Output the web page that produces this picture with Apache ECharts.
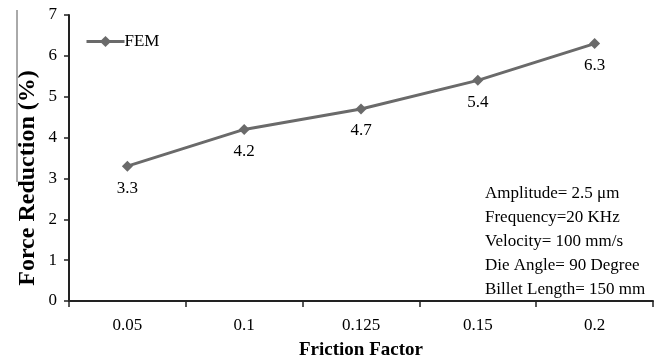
<!DOCTYPE html>
<html><head><meta charset="utf-8">
<script src="https://cdn.jsdelivr.net/npm/echarts@6/dist/echarts.min.js"></script>
<style>html,body{margin:0;padding:0;background:#fff}#c{width:668px;height:361px}</style>
</head><body><div id="c"></div>
<script>
var categories = ['0.05', '0.1', '0.125', '0.15', '0.2'];
var femValues = [3.3, 4.2, 4.7, 5.4, 6.3];
var yTicks = [0, 1, 2, 3, 4, 5, 6, 7];
var notes = ['Amplitude= 2.5 \u03bcm', 'Frequency=20 KHz', 'Velocity= 100 mm/s', 'Die Angle= 90 Degree', 'Billet Length= 150 mm'];
var serif = '"Liberation Serif", "DejaVu Serif", serif';
var chart = echarts.init(document.getElementById('c'), null, {renderer: 'canvas'});
chart.setOption({
  animation: false,
  backgroundColor: '#fff',
  grid: {left: 69, right: 15, top: 15, bottom: 60, outerBoundsMode: 'none', containLabel: false},
  legend: {
    show: true, left: 80, top: 28, itemWidth: 38, itemHeight: 14, itemGap: 4,
    lineStyle: {width: 3, color: '#6a6a6a'},
    textStyle: {fontFamily: serif, fontSize: 17, color: '#000', padding: [0, 0, 0, -5]},
    data: ['FEM']
  },
  xAxis: {
    type: 'category', data: categories, boundaryGap: true,
    name: 'Friction Factor', nameLocation: 'middle', nameGap: 40,
    nameTextStyle: {fontFamily: serif, fontSize: 19, fontWeight: 'bold', color: '#000'},
    axisLine: {lineStyle: {color: '#222', width: 2}},
    axisTick: {show: true, inside: false, length: 6, lineStyle: {color: '#222', width: 1.5}},
    axisLabel: {fontFamily: serif, fontSize: 17, color: '#000', margin: 16},
    splitLine: {show: false}
  },
  yAxis: {
    type: 'value', min: yTicks[0], max: yTicks[yTicks.length - 1], interval: 1,
    axisLine: {show: true, lineStyle: {color: '#222', width: 2}},
    axisTick: {show: true, inside: false, length: 5, lineStyle: {color: '#222', width: 1.5}},
    axisLabel: {fontFamily: serif, fontSize: 17, color: '#000', margin: 12},
    splitLine: {show: false}
  },
  series: [{
    name: 'FEM', type: 'line', data: femValues,
    symbol: 'diamond', symbolSize: 11,
    lineStyle: {color: '#6a6a6a', width: 3},
    itemStyle: {color: '#6a6a6a'},
    label: {show: true, position: 'bottom', distance: 8, fontFamily: serif, fontSize: 17, color: '#000'}
  }],
  graphic: [
    {type: 'line', shape: {x1: 17, y1: 10, x2: 17, y2: 182}, style: {stroke: '#555', lineWidth: 1}},
    {type: 'text', x: 28, y: 178, rotation: Math.PI / 2, z: 10,
     style: {text: 'Force Reduction (%)', textAlign: 'center', textVerticalAlign: 'middle', fontFamily: serif, fontSize: 24, fontWeight: 'bold', fill: '#000'}},
    {type: 'text', left: 485, top: 182, style: {text: notes.join('\n'), fontFamily: serif, fontSize: 17, lineHeight: 24, fill: '#000'}}
  ]
});
</script></body></html>
